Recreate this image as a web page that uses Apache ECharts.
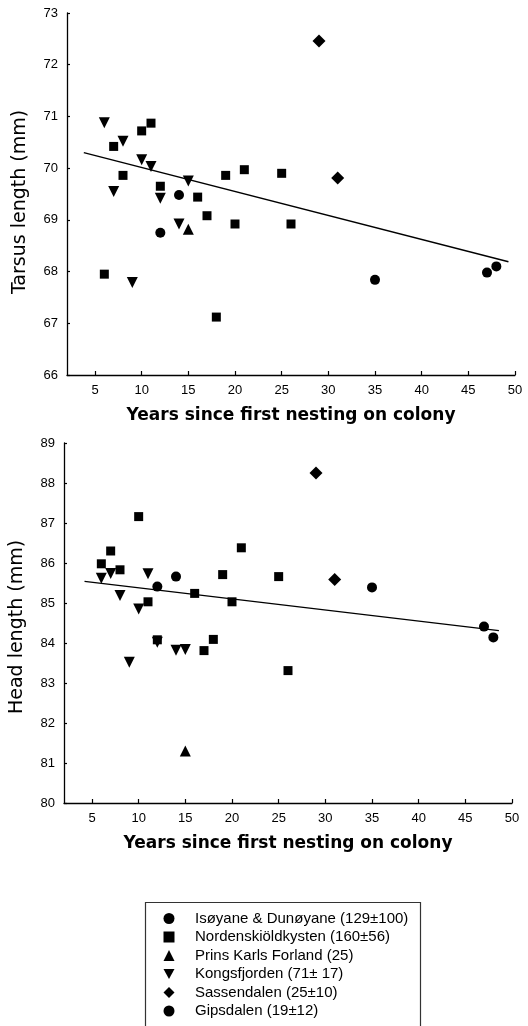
<!DOCTYPE html>
<html>
<head>
<meta charset="utf-8">
<script src="https://cdn.jsdelivr.net/npm/echarts@6/dist/echarts.min.js"></script>
<style>
html,body{margin:0;padding:0;background:#fff;}
#chart{width:528px;height:1026px;}
</style>
</head>
<body>
<div id="chart"></div>
<script>
// ---- labels ----
const legendNames = [
  'Isøyane & Dunøyane (129±100)',
  'Nordenskiöldkysten (160±56)',
  'Prins Karls Forland (25)',
  'Kongsfjorden (71± 17)',
  'Sassendalen (25±10)',
  'Gipsdalen (19±12)'
];
const xTicks = [5, 10, 15, 20, 25, 30, 35, 40, 45, 50];
const xTitle = 'Years since first nesting on colony';
const tarsusTitle = 'Tarsus length (mm)';
const headTitle = 'Head length (mm)';

// ---- Tarsus length (top panel) [years, mm] ----
const tarsusIsoyane = [[35, 67.84], [47, 67.98], [48, 68.10]];
const tarsusNordensk = [[6, 67.95], [7, 70.42], [8, 69.86], [10, 70.72], [11, 70.87], [12, 69.65],
  [16, 69.44], [17, 69.08], [18, 67.12], [19, 69.86], [20, 68.92], [21, 69.97], [25, 69.90], [26, 68.92]];
const tarsusPrins = [[15, 68.82]];
const tarsusKongs = [[6, 70.88], [7, 69.55], [8, 70.52], [9, 67.79], [10, 70.16], [11, 70.03],
  [12, 69.42], [14, 68.92], [15, 69.75]];
const tarsusSassen = [[29, 72.46], [31, 69.81]];
const tarsusGips = [[12, 68.75], [14, 69.48]];
const tarsusTrend = [[3.8, 70.30], [49.3, 68.19]];

// ---- Head length (bottom panel) [years, mm] ----
const headIsoyane = [[35, 85.39], [47, 84.41], [48, 84.14]];
const headNordensk = [[6, 85.98], [7, 86.30], [8, 85.83], [10, 87.16], [11, 85.03], [12, 84.08],
  [16, 85.24], [17, 83.81], [18, 84.09], [19, 85.71], [20, 85.03], [21, 86.38], [25, 85.66], [26, 83.31]];
const headPrins = [[15, 81.30]];
const headKongs = [[6, 85.62], [7, 85.74], [8, 85.19], [9, 83.52], [10, 84.85], [11, 85.73],
  [12, 84.02], [14, 83.82], [15, 83.84]];
const headSassen = [[29, 88.25], [31, 85.59]];
const headGips = [[12, 85.41], [14, 85.66]];
const headTrend = [[4.2, 85.54], [48.6, 84.31]];

const FONT = '"Liberation Sans", Arial, Helvetica, sans-serif';
const TFONT = '"DejaVu Sans", "Liberation Sans", sans-serif';
const TRI_DOWN = 'path://M0,0 L10,0 L5,9 Z';
const symbols = ['circle', 'rect', 'triangle', TRI_DOWN, 'diamond', 'circle'];
const sizes = [10, 9, 11, 11, 13, 10];

const tarsusSets = [tarsusIsoyane, tarsusNordensk, tarsusPrins, tarsusKongs, tarsusSassen, tarsusGips];
const headSets = [headIsoyane, headNordensk, headPrins, headKongs, headSassen, headGips];

function xAxis(gridIndex) {
  return {
    type: 'value', gridIndex, min: 2, max: 50,
    axisLine: {show: true, onZero: false, lineStyle: {color: '#000', width: 1.3}},
    axisTick: {show: true, inside: true, length: 4, customValues: xTicks, lineStyle: {color: '#000', width: 1.2}},
    axisLabel: {customValues: xTicks, color: '#000', fontFamily: FONT, fontSize: 13, margin: 9},
    splitLine: {show: false},
    name: xTitle, nameLocation: 'middle', nameGap: 32,
    nameTextStyle: {color: '#000', fontFamily: TFONT, fontSize: 17, fontWeight: 'bold'}
  };
}
function yAxis(gridIndex, min, max, title, shift) {
  return {
    type: 'value', gridIndex, min, max, interval: 1,
    axisLine: {show: true, onZero: false, lineStyle: {color: '#000', width: 1.3}},
    axisTick: {show: true, inside: true, length: 3, lineStyle: {color: '#000', width: 1.2}},
    axisLabel: {color: '#000', fontFamily: FONT, fontSize: 13, margin: 9},
    splitLine: {show: false},
    name: title, nameLocation: 'middle', nameGap: 37,
    nameTextStyle: {color: '#000', fontFamily: TFONT, fontSize: 19, padding: [0, shift, 0, 0]}
  };
}

const series = [];
[tarsusSets, headSets].forEach((sets, gi) => {
  sets.forEach((data, i) => {
    series.push({
      type: 'scatter', name: legendNames[i], xAxisIndex: gi, yAxisIndex: gi,
      data, symbol: symbols[i], symbolSize: sizes[i],
      itemStyle: {color: '#000', opacity: 1},
      emphasis: {disabled: true}
    });
  });
  series.push({
    type: 'line', xAxisIndex: gi, yAxisIndex: gi,
    data: gi === 0 ? tarsusTrend : headTrend,
    showSymbol: false, symbol: 'none', silent: true,
    lineStyle: {color: '#000', width: 1.4}
  });
});

const chart = echarts.init(document.getElementById('chart'), null, {renderer: 'canvas'});
chart.setOption({
  animation: false,
  backgroundColor: '#fff',
  grid: [
    {left: 67, width: 448, top: 13, height: 362},
    {left: 64, width: 448, top: 443, height: 360}
  ],
  xAxis: [xAxis(0), xAxis(1)],
  yAxis: [yAxis(0, 66, 73, tarsusTitle, 16), yAxis(1, 80, 89, headTitle, 8)],
  legend: {
    data: legendNames,
    orient: 'vertical', left: 163.5, top: 911, padding: 0,
    height: 113,
    itemWidth: 11, itemHeight: 11, itemGap: 3.5,
    selectedMode: false,
    textStyle: {color: '#000', fontFamily: FONT, fontSize: 15, lineHeight: 15, padding: [0, 0, 0, 15.5]}
  },
  graphic: [{
    type: 'rect', left: 143, top: 900, silent: true,
    shape: {width: 275, height: 125},
    style: {fill: 'none', stroke: '#333', lineWidth: 1.2}
  }],
  series
});
</script>
</body>
</html>
